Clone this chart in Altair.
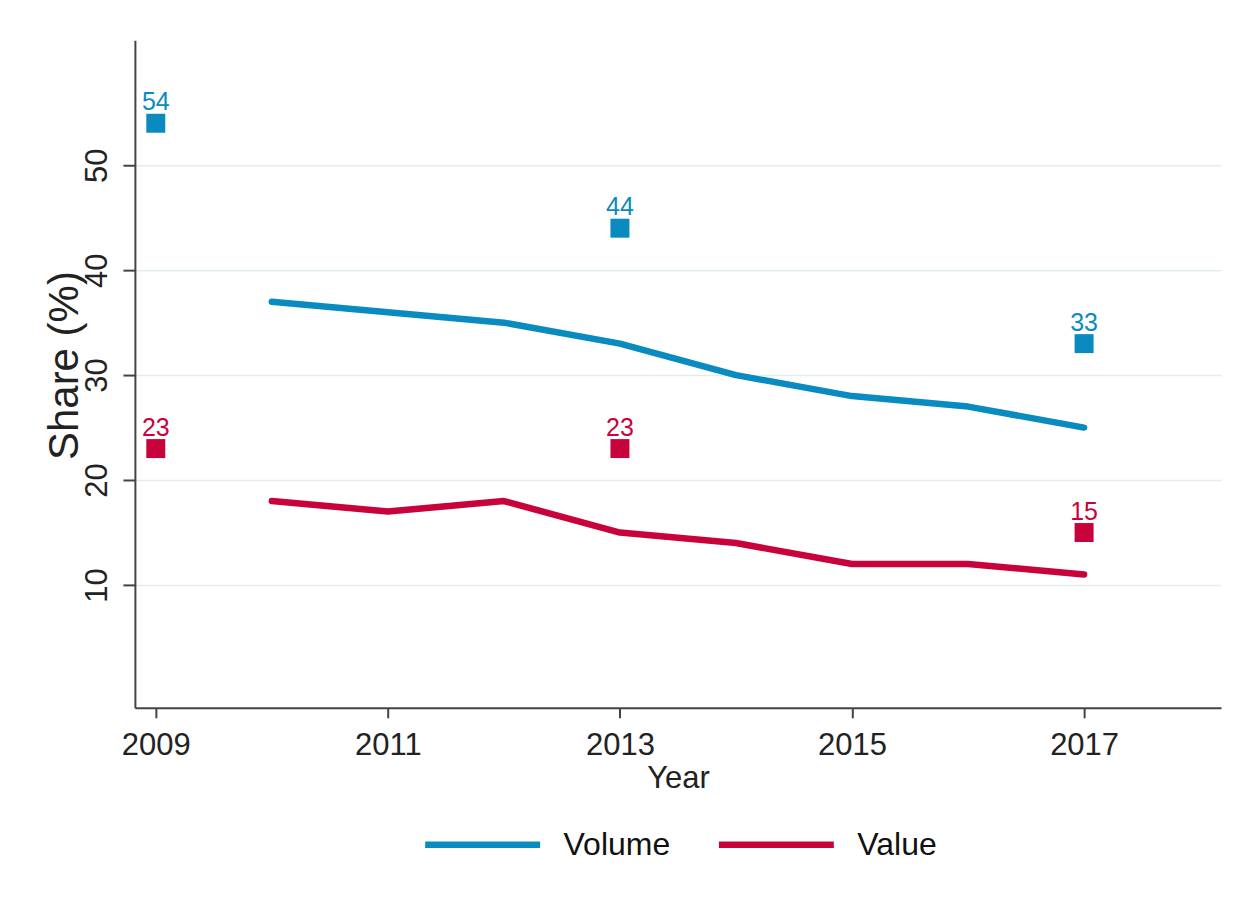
import altair as alt
import pandas as pd

# ---- data ----
years = [2010, 2011, 2012, 2013, 2014, 2015, 2016, 2017]
volume = [37, 36, 35, 33, 30, 28, 27, 25]
value = [18, 17, 18, 15, 14, 12, 12, 11]

survey_years = [2009, 2013, 2017]
survey_volume = [54, 44, 33]
survey_value = [23, 23, 15]

series = ["Volume", "Value"]
colors = ["#0a8bbf", "#c8033b"]

x_ticks = [2009, 2011, 2013, 2015, 2017]
y_ticks = [10, 20, 30, 40, 50]

lines_df = pd.DataFrame({
    "year": years * 2,
    "share": volume + value,
    "series": ["Volume"] * len(years) + ["Value"] * len(years),
})
pts_df = pd.DataFrame({
    "year": survey_years * 2,
    "share": survey_volume + survey_value,
    "group": ["Volume"] * len(survey_years) + ["Value"] * len(survey_years),
})
pts_df["label"] = pts_df["share"].astype(str)

FONT = "Liberation Sans"

x_enc = alt.X(
    "year:Q",
    scale=alt.Scale(domain=[2008.82, 2018.18], nice=False, zero=False),
    axis=alt.Axis(
        values=x_ticks, format="d", title="Year", grid=False,
        labelFontSize=31, labelPadding=13, tickSize=10, labelFlush=False,
        labelOverlap=False, titleFontSize=31, titleFontWeight="normal",
        titleY=71, titleBaseline="middle",
    ),
)
y_enc = alt.Y(
    "share:Q",
    scale=alt.Scale(domain=[-1.7, 61.9], nice=False, zero=False),
    axis=alt.Axis(
        values=y_ticks, title="Share (%)", grid=True,
        gridColor="#e4eded", gridWidth=1.5,
        labelAngle=270, labelAlign="center", labelBaseline="bottom",
        labelFontSize=31, labelPadding=9, tickSize=12, labelFlush=False,
        labelOverlap=False, titleFontSize=42, titleFontWeight="normal",
        titleAngle=270, titleX=-70, titleY=325, titleAlign="center",
        titleBaseline="middle",
    ),
)

lines = alt.Chart(lines_df).mark_line(
    strokeWidth=6.5, strokeCap="round", strokeJoin="round"
).encode(
    x=x_enc,
    y=y_enc,
    stroke=alt.Stroke(
        "series:N",
        scale=alt.Scale(domain=series, range=colors),
        legend=alt.Legend(
            orient="none", legendX=287, legendY=744, direction="horizontal",
            title=None, symbolType="stroke", symbolSize=13225,
            symbolStrokeWidth=6.5, labelFontSize=32, labelFont=FONT,
            labelColor="#111111", labelOffset=20, columnPadding=35, padding=0,
        ),
    ),
    detail="series:N",
)

points = alt.Chart(pts_df).mark_square(size=361, opacity=1, filled=True).encode(
    x=x_enc,
    y=y_enc,
    fill=alt.Fill("group:N", scale=alt.Scale(domain=series, range=colors), legend=None),
)

labels = alt.Chart(pts_df).mark_text(
    fontSize=25, dy=-13, baseline="alphabetic", font=FONT
).encode(
    x=x_enc,
    y=y_enc,
    text="label:N",
    fill=alt.Fill("group:N", scale=alt.Scale(domain=series, range=colors), legend=None),
)

chart = (
    alt.layer(lines, points, labels)
    .properties(
        width=1087, height=668,
        autosize=alt.AutoSizeParams(type="none"),
        padding={"left": 127, "top": 32, "right": 20, "bottom": 192},
        background="white",
    )
    .configure_view(stroke=None)
    .configure_axis(
        domainColor="#444444", tickColor="#444444", domainWidth=2, tickWidth=2,
        labelColor="#222222", titleColor="#222222", labelFont=FONT, titleFont=FONT,
    )
)

chart.save("out.html", embed_options={"renderer": "svg", "actions": False})
